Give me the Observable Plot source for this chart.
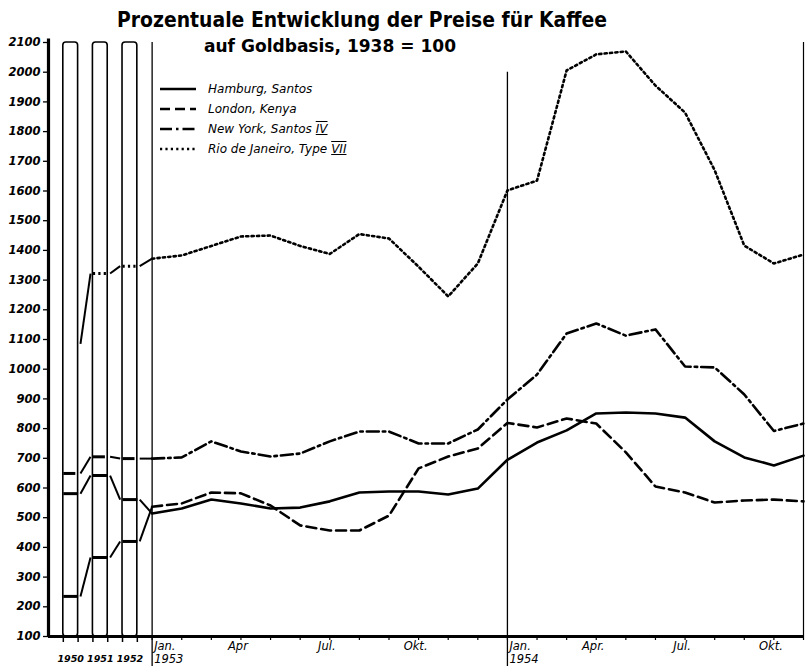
<!DOCTYPE html>
<html><head><meta charset="utf-8">
<script src="https://cdn.jsdelivr.net/npm/d3@7"></script>
<script src="https://cdn.jsdelivr.net/npm/@observablehq/plot@0.6"></script>
<style>
body{margin:0;background:#fff;}
#wrap{position:relative;width:805px;height:670px;overflow:hidden;}
#wrap > svg{position:absolute;left:0;top:0;}
#title{position:absolute;left:0;top:0;pointer-events:none;}
#legend{position:absolute;left:160px;top:79px;font-family:"DejaVu Sans",sans-serif;font-style:italic;font-size:12px;color:#000;}
#legend .row{display:flex;align-items:center;height:20px;white-space:pre;}
#legend .row svg{margin-right:12px;}
.rn{text-decoration:underline overline;margin-left:4px;}
</style></head><body>
<div id="wrap"></div>
<script>
// ---------- data ----------
const years = ["1950", "1951", "1952"];
const hamburgAnnual = [581, 642, 561];
const londonAnnual  = [235, 366, 420];
const newYorkAnnual = [649, 705, 699];
const rioAnnual     = [1085, 1322, 1347];   // 1950 value only shown as start of connector

// monthly Jan 1953 ... Nov 1954
const monthLabels = ["Jan.\n1953","","","Apr","","","Jul.","","","Okt.","","",
                     "Jan.\n1954","","","Apr.","","","Jul.","","","Okt.",""];
const hamburg = [514, 531, 561, 548, 531, 534, 555, 585, 588, 588, 578, 598,
                 695, 753, 794, 851, 854, 851, 837, 757, 703, 676, 709];
const london  = [537, 548, 585, 582, 541, 474, 457, 457, 507, 666, 706, 733,
                 819, 804, 834, 817, 720, 605, 585, 551, 558, 561, 555];
const newYork = [699, 703, 757, 723, 706, 716, 757, 790, 790, 750, 750, 797,
                 898, 982, 1120, 1154, 1113, 1134, 1009, 1006, 915, 792, 817];
const rio     = [1372, 1383, 1415, 1447, 1450, 1415, 1388, 1455, 1440, 1345, 1245, 1356,
                 1602, 1635, 2006, 2060, 2070, 1955, 1864, 1670, 1416, 1356, 1386];
const yTicks = d3.range(100, 2101, 100);

// ---------- series & styles ----------
const series = [
  {name: "Hamburg, Santos", annual: hamburgAnnual, monthly: hamburg, dash: null, boxDash: null},
  {name: "London, Kenya", annual: londonAnnual, monthly: london, dash: "10,5", boxDash: null},
  {name: "New York, Santos", roman: "IV", annual: newYorkAnnual, monthly: newYork, dash: "12,4,2.5,4", boxDash: "12,4,2.5,4"},
  {name: "Rio de Janeiro, Type", roman: "VII", annual: rioAnnual, monthly: rio, dash: "2.2,3.2", boxDash: "2.2,3.2", skipFirstBox: true}
];

const xDomain = [-3.5, monthLabels.length - 1];
const yDomain = [100, 2100];
const boxStart = i => i - years.length;        // year box left edge (month units)
const boxEnd = i => boxStart(i) + 0.5;
const gap = 0.08;
const janIdx = monthLabels.map((t, i) => t.startsWith("Jan") ? i : -1).filter(i => i >= 0);

const marks = [];
// year boxes
marks.push(Plot.rect(years, {x1: (d, i) => boxStart(i), x2: (d, i) => boxEnd(i), y1: yDomain[0], y2: yDomain[1],
  fill: "none", stroke: "black", strokeWidth: 1.6, rx: 3}));
// Jan. separators
marks.push(Plot.ruleX(janIdx, {y1: yDomain[0], y2: (d, i) => i === 0 ? yDomain[1] : 2000, stroke: "black", strokeWidth: 1.3}));
// tick extensions below axis
marks.push(Plot.axisX({ticks: d3.range(0, monthLabels.length), tickSize: 4, tickFormat: () => "", strokeWidth: 1.2}));
marks.push(Plot.axisX({ticks: years.flatMap((d, i) => [boxStart(i), boxEnd(i)]), tickSize: 6, tickFormat: () => "", strokeWidth: 1.5}));
marks.push(Plot.axisX({ticks: janIdx, tickSize: 30, tickFormat: () => "", strokeWidth: 1.3}));
// frame
marks.push(Plot.ruleX([xDomain[1]], {y1: yDomain[0], y2: yDomain[1], stroke: "black", strokeWidth: 1.2}));
// y axis
marks.push(Plot.axisY({ticks: yTicks, tickFormat: d => String(d), tickSize: 5, tickPadding: 3, fontSize: 11.5,
  fontStyle: "italic", fontWeight: "bold", fontFamily: "DejaVu Sans", strokeWidth: 1.3}));

// series
for (const s of series) {
  const rows = s.monthly.map((v, i) => ({m: i, v}));
  marks.push(Plot.line(rows, {x: "m", y: "v", stroke: "black", strokeWidth: 2.6, strokeDasharray: s.dash,
    strokeLinejoin: "round", curve: "linear"}));
  const boxRows = s.annual.map((v, i) => ({i, v})).filter(d => !(s.skipFirstBox && d.i === 0));
  marks.push(Plot.link(boxRows, {x1: d => boxStart(d.i), x2: d => boxEnd(d.i), y1: "v", y2: "v",
    stroke: "black", strokeWidth: 3, strokeDasharray: s.boxDash}));
  const conn = s.annual.map((v, i) => ({
    x1: boxEnd(i) + gap, y1: v,
    x2: i < s.annual.length - 1 ? boxStart(i + 1) - gap : 0,
    y2: i < s.annual.length - 1 ? s.annual[i + 1] : s.monthly[0]
  }));
  marks.push(Plot.link(conn, {x1: "x1", y1: "y1", x2: "x2", y2: "y2", stroke: "black", strokeWidth: 2}));
}

// axis lines
marks.push(Plot.ruleX([xDomain[0]], {y1: yDomain[0], y2: yDomain[1] + 12, stroke: "black", strokeWidth: 3.2}));
marks.push(Plot.ruleY([yDomain[0]], {stroke: "black", strokeWidth: 3.2}));

// x labels
const lab = monthLabels.map((t, i) => ({m: i, t})).filter(d => d.t);
const font = {fontFamily: "DejaVu Sans", fontStyle: "italic", fontSize: 11.5};
marks.push(Plot.text(lab.filter(d => d.t.startsWith("Jan")), {x: "m", text: "t", frameAnchor: "bottom", lineAnchor: "top",
  textAnchor: "start", dx: 2, dy: 5, lineHeight: 1.1, ...font}));
marks.push(Plot.text(lab.filter(d => !d.t.startsWith("Jan")), {x: "m", text: "t", frameAnchor: "bottom", lineAnchor: "top",
  textAnchor: "middle", dx: -3, dy: 5, ...font}));
marks.push(Plot.text(years, {x: (d, i) => boxStart(i) + 0.25, text: d => d, frameAnchor: "bottom", lineAnchor: "top",
  dy: 19, ...font, fontSize: 9.5, fontWeight: "bold"}));

const chart = Plot.plot({
  width: 805, height: 670,
  marginLeft: 48, marginRight: 2, marginTop: 42, marginBottom: 34,
  x: {domain: xDomain, axis: null},
  y: {domain: yDomain, axis: null},
  style: {background: "white", color: "black", fontFamily: "DejaVu Sans", overflow: "visible"},
  marks
});
const wrap = document.getElementById("wrap");
wrap.appendChild(chart);

// title overlay
const ns = "http://www.w3.org/2000/svg";
const tsvg = document.createElementNS(ns, "svg");
tsvg.setAttribute("id", "title");
tsvg.setAttribute("width", 805); tsvg.setAttribute("height", 60);
const titleLines = [
  {text: "Prozentuale Entwicklung der Preise für Kaffee", x: 362, y: 27, size: 22, len: 490},
  {text: "auf Goldbasis, 1938 = 100", x: 330, y: 52, size: 18, len: 252}
];
for (const t of titleLines) {
  const el = document.createElementNS(ns, "text");
  el.setAttribute("x", t.x); el.setAttribute("y", t.y);
  el.setAttribute("text-anchor", "middle");
  el.setAttribute("font-family", "DejaVu Sans, sans-serif");
  el.setAttribute("font-weight", "bold");
  el.setAttribute("font-size", t.size);
  el.setAttribute("textLength", t.len);
  el.setAttribute("lengthAdjust", "spacingAndGlyphs");
  el.textContent = t.text;
  tsvg.appendChild(el);
}
wrap.appendChild(tsvg);

// legend overlay
const leg = document.createElement("div");
leg.id = "legend";
for (const s of series) {
  const row = document.createElement("div");
  row.className = "row";
  row.innerHTML = `<svg width="36" height="8"><line x1="0" y1="4" x2="36" y2="4" stroke="black" stroke-width="2.6" ${s.dash ? `stroke-dasharray="${s.dash}"` : ""}/></svg>`;
  const span = document.createElement("span");
  span.textContent = s.name;
  row.appendChild(span);
  if (s.roman) {
    const r = document.createElement("span");
    r.className = "rn"; r.textContent = s.roman;
    row.appendChild(r);
  }
  leg.appendChild(row);
}
wrap.appendChild(leg);
</script>
</body></html>
